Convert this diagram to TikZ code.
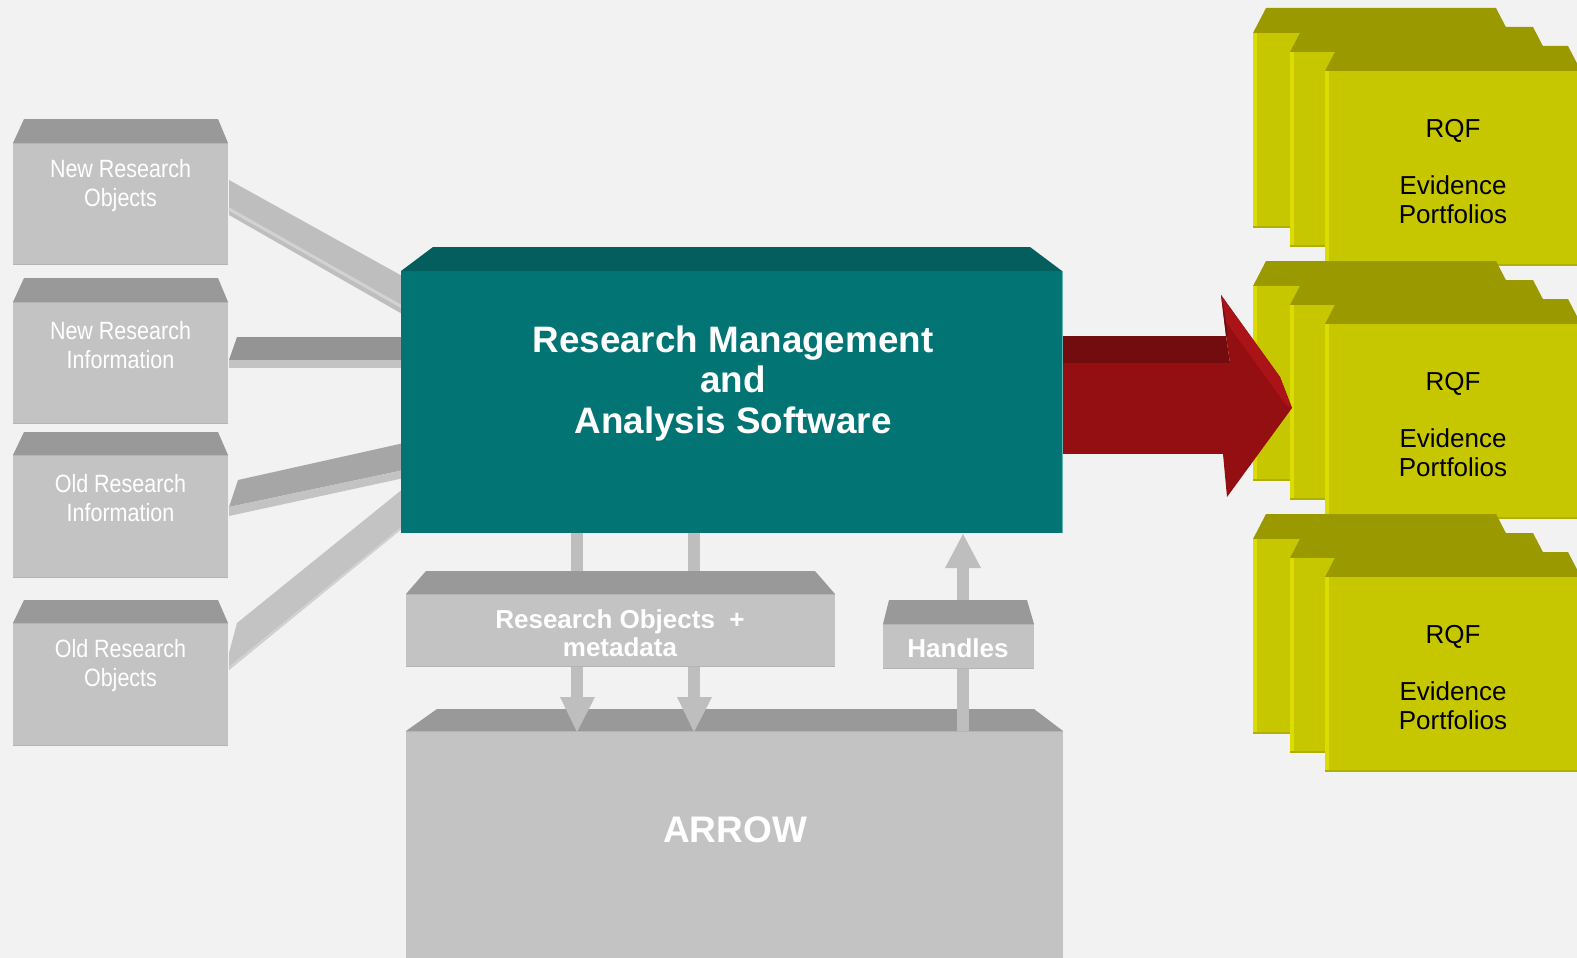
\documentclass[tikz,border=0pt]{standalone}
\usepackage{fontspec}
\setmainfont{Liberation Sans}
\newfontfamily\narrowfont[FakeStretch=0.86]{Liberation Sans}
\definecolor{bg}{HTML}{F2F2F2}
\definecolor{gtop}{HTML}{999999}
\definecolor{gfront}{HTML}{C3C3C3}
\definecolor{gedge}{HTML}{B4B4B4}
\definecolor{gbar}{HTML}{BEBEBE}
\definecolor{gbarlight}{HTML}{D2D2D2}
\definecolor{tealtop}{HTML}{045E5E}
\definecolor{tealfront}{HTML}{027474}
\definecolor{redtop}{HTML}{730C0E}
\definecolor{redfront}{HTML}{930F12}
\definecolor{redbevel}{HTML}{AA1418}
\definecolor{ytop}{HTML}{9A9A00}
\definecolor{yfront}{HTML}{C7C700}
\definecolor{yedge}{HTML}{DCDC00}
\definecolor{ybottom}{HTML}{B0B000}
\tikzset{
  topface/.style={fill=gtop},
  frontface/.style={fill=gfront},
  barface/.style={fill=gbar},
  lbl/.style={text=white, align=center, inner sep=0pt, font={\narrowfont\fontsize{25}{29}\selectfont}},
  boldlbl/.style={text=white, align=center, inner sep=0pt, font={\bfseries\fontsize{26}{28}\selectfont}},
  rqflbl/.style={text=black, align=center, inner sep=0pt, font={\fontsize{26}{28.5}\selectfont}},
}
% 3D box: name, x1, y1 (front top-left), x2, y2 (front bottom-right), left inset, right inset, top height
\newcommand\grbox[8]{%
  \fill[topface] (#2+#6,#3-#8) -- (#4-#7,#3-#8) -- (#4,#3) -- (#2,#3) -- cycle;
  \fill[frontface] (#2,#3) rectangle (#4,#5);
  \draw[gedge, line width=1.5pt] (#2,#3+0.7) -- (#4,#3+0.7);
  \draw[gedge, line width=1.5pt] (#2,#5-0.7) -- (#4,#5-0.7);
  \coordinate (#1) at ({(#2+#4)/2},{(#3+#5)/2});
}
% folder: x, y of front top-left
\newcommand\folder[2]{%
  \fill[ytop] (#1+13,#2-25) -- (#1+243,#2-25) -- (#1+256,#2) -- (#1,#2) -- cycle;
  \fill[yfront] (#1,#2) rectangle (#1+256,#2+195);
  \fill[yedge] (#1,#2) rectangle (#1+4,#2+195);
  \fill[ybottom] (#1,#2+193) rectangle (#1+256,#2+195);
}
\newcommand\folders[2]{%
  \folder{1253}{33+#1}
  \folder{1290}{52+#1}
  \folder{1325}{71+#1}
  \node[rqflbl] (#2) at (1453,171.5+#1) {RQF\\[28.5pt]Evidence\\Portfolios};
}
\begin{document}
\begin{tikzpicture}[x=1pt,y=-1pt]
\useasboundingbox (0,0) rectangle (1577,958);
\fill[bg] (0,0) rectangle (1577,958);

% ---- left boxes
\grbox{b1}{13}{143}{228}{265}{11}{10}{24}
\grbox{b2}{13}{302}{228}{424}{11}{10}{24}
\grbox{b3}{13}{455}{228}{578}{11}{10}{23}
\grbox{b4}{13}{623}{228}{746}{11}{10}{23}
\node[lbl] (nro) at (120.5,186) {New Research\\Objects};
\node[lbl] (nri) at (120.5,345) {New Research\\Information};
\node[lbl] (ori) at (120.5,498) {Old Research\\Information};
\node[lbl] (oro) at (120.5,666) {Old Research\\Objects};

% ---- bars from left boxes to the central box
\fill[barface] (229,180) -- (404,277) -- (404,315) -- (229,215) -- cycle;
\draw[gbarlight, line width=3pt] (229,209) -- (404,308);
\fill[gtop!105] (237,337) -- (404,337) -- (404,360) -- (229,360) -- cycle;
\fill[gfront] (229,360) rectangle (404,368);
\fill[fill=gray!70] (238,480) -- (404,443) -- (404,470) -- (229,507) -- cycle;
\fill[gfront] (229,507) -- (404,470) -- (404,478) -- (229,516) -- cycle;
\fill[fill=gfront] (237,623) -- (404,488) -- (404,527) -- (229,670) -- (229,653) -- cycle;
\draw[gbarlight, line width=2pt] (229,668) -- (404,526);

% ---- central teal box
\fill[tealtop] (433,247) -- (1030,247) -- (1062,271) -- (401,271) -- cycle;
\fill[tealfront] (401,271) rectangle (1063,533);
\draw[teal!60, line width=1.5pt] (1062.5,271) -- (1062.5,533);
\coordinate (rmas) at (732,402);
\node[text=white, align=center, inner sep=0pt, font={\bfseries\fontsize{36.8}{40.5}\selectfont}] (rmastext) at (733,383)
  {Research Management\\and\\Analysis Software};

% ---- yellow folders
\folders{0}{rqf1}
\folders{253}{rqf2}
\folders{506}{rqf3}

% ---- red arrow (drawn over the folders)
\fill[redtop] (1063,336) -- (1226,336) -- (1230,363) -- (1063,363) -- cycle;
\fill[redfront] (1063,363) rectangle (1231,454);
\fill[redfront] (1221,295) -- (1280,377) -- (1292,408) -- (1227,497) -- (1223,454) -- (1230,363) -- (1226,336) -- cycle;
\fill[redbevel] (1221,295) -- (1280,377) -- (1292,408) -- (1286,405) -- (1226,322) -- cycle;
\fill[redtop] (1221,295) -- (1226,322) -- (1228,336) -- (1226,336) -- cycle;

% ---- vertical bars from teal box to research objects box
\fill[gbar] (571,533) rectangle (583,575);
\fill[gbar] (688,533) rectangle (700,575);

% ---- research objects + metadata box
\grbox{rom}{406}{594}{835}{667}{20}{20}{23}
\node[boldlbl] (romtext) at (620,633) {Research Objects~~+\\metadata};

% ---- ARROW box
\grbox{arrow}{406}{731}{1063}{975}{31}{29}{22}
\node[text=white, inner sep=0pt, font={\bfseries\fontsize{37}{40}\selectfont}] (arrowtext) at (735,830) {ARROW};

% ---- down arrows into ARROW
\fill[gbar] (571,667) rectangle (583,698);
\fill[gbar] (560,697) -- (595,697) -- (577,732) -- cycle;
\fill[gbar] (688,667) rectangle (700,698);
\fill[gbar] (677,697) -- (712,697) -- (694,732) -- cycle;

% ---- Handles box and its up arrow
\grbox{hdl}{883}{624}{1034}{669}{6}{7}{24}
\node[boldlbl] (hdltext) at (958,648) {Handles};
\fill[gbar] (957,669) rectangle (969,731);
\fill[gbar] (957,567) rectangle (969,600);
\fill[gbar] (945,568) -- (981,568) -- (963,534) -- cycle;
\end{tikzpicture}
\end{document}
